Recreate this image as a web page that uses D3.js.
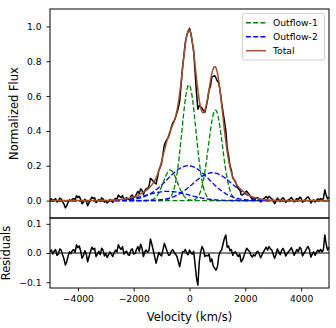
<!DOCTYPE html>
<html>
<head>
<meta charset="utf-8">
<script src="https://cdn.jsdelivr.net/npm/d3@7"></script>
<style>
body { margin: 0; background: #fff; }
text { font-family: "DejaVu Sans", sans-serif; }
</style>
</head>
<body>
<div id="vis"></div>
<script>
// velocity grid of the spectrum (km/s)
const velStart = -5000, velStep = 50;

// residuals = data - total fit, one per velocity bin (10 per row = 500 km/s)
const residuals = [
  0.005, 0.010, -0.003, 0.006, 0.012, -0.008, -0.004, 0.014, 0.010, -0.006,
  -0.020, -0.041, -0.030, -0.010, 0.004, -0.002, 0.008, 0.012, 0.002, 0.028,
  0.018, 0.024, 0.006, -0.018, -0.008, 0.008, -0.004, -0.030, -0.012, 0.004,
  0.020, 0.012, 0.016, -0.012, -0.004, 0.006, -0.006, 0.016, 0.010, -0.010,
  -0.002, -0.015, -0.006, 0.004, -0.004, -0.012, 0.002, 0.010, 0.004, 0.028,
  0.018, 0.012, 0.022, -0.004, 0.004, 0.006, -0.006, -0.008, 0.010, 0.014,
  -0.004, -0.002, 0.012, 0.022, 0.006, 0.030, 0.016, -0.012, 0.004, 0.010,
  0.002, 0.010, 0.048, 0.030, 0.010, -0.012, -0.035, -0.018, 0.002, -0.006,
  -0.010, 0.012, 0.033, 0.020, 0.005, -0.008, -0.006, 0.006, 0.012, 0.002,
  -0.004, -0.012, -0.030, -0.047, -0.020, 0.004, 0.004, 0.012, 0.000, -0.006,
  0.010, 0.002, -0.004, 0.006, -0.040, -0.085, -0.110, -0.030, 0.004, 0.022,
  0.012, -0.012, -0.008, -0.010, -0.004, -0.030, -0.020, -0.045, -0.052, -0.059,
  -0.048, -0.010, 0.004, 0.010, 0.030, 0.050, 0.062, 0.020, 0.024, 0.008,
  0.012, -0.008, 0.002, 0.004, -0.006, -0.012, -0.004, -0.030, -0.024, -0.010,
  0.004, 0.016, 0.010, 0.005, -0.008, -0.014, -0.006, -0.010, 0.002, 0.006,
  -0.004, -0.016, -0.006, 0.004, 0.012, 0.020, 0.010, 0.022, 0.014, 0.010,
  -0.004, -0.018, -0.006, 0.014, 0.004, -0.006, 0.008, 0.016, 0.006, -0.010,
  -0.002, 0.004, 0.010, 0.018, 0.006, -0.008, 0.002, 0.012, 0.004, 0.020,
  0.014, -0.010, -0.002, 0.006, 0.016, 0.022, 0.010, -0.014, -0.004, 0.004,
  -0.008, 0.002, 0.010, 0.004, 0.012, 0.004, 0.012, 0.062, 0.030, 0.010,
  0.020
];

// gaussian components of the fit: [NII]6548, Halpha, [NII]6583 for each outflow
const compSeries = ["Outflow-1", "Outflow-1", "Outflow-1", "Outflow-2", "Outflow-2", "Outflow-2"];
const compCenter = [-686, -20, 930, -770, -50, 820];
const compAmp    = [0.175, 0.665, 0.52, 0.053, 0.2, 0.16];
const compSigma  = [250, 250, 250, 750, 750, 700];

const legendLabels = ["Outflow-1", "Outflow-2", "Total"];
const fluxTicks = [0, 0.2, 0.4, 0.6, 0.8, 1.0];
const residTicks = [-0.1, 0, 0.1];
const velTicks = [-4000, -2000, 0, 2000, 4000];

const colors = { "Outflow-1": "#008000", "Outflow-2": "#0000ff", "Total": "#a0522d" };

const W = 336, H = 328;
const left = 50, right = 329, top1 = 9, bot1 = 218, bot2 = 288;

var svg = d3.select("#vis").append("svg")
  .attr("width", W).attr("height", H);

var x = d3.scaleLinear().domain([-5000, 5000]).range([left, right]);
var y1 = d3.scaleLinear().domain([-0.1, 1.1]).range([bot1, top1]);
var y2 = d3.scaleLinear().domain([-0.12, 0.12]).range([bot2, bot1]);

function gauss(i, v) {
  var d = (v - compCenter[i]) / compSigma[i];
  return compAmp[i] * Math.exp(-0.5 * d * d);
}
function total(v) {
  var s = 0;
  for (var i = 0; i < compCenter.length; i++) s += gauss(i, v);
  return s;
}

var fine = d3.range(-5000, 5001, 20);
var vel = residuals.map((r, i) => velStart + i * velStep);
var data = vel.map((v, i) => ({ v: v, f: total(v) + residuals[i], r: residuals[i] }));

// clip paths
var defs = svg.append("defs");
defs.append("clipPath").attr("id", "c1").append("rect")
  .attr("x", left).attr("y", top1).attr("width", right - left).attr("height", bot1 - top1);
defs.append("clipPath").attr("id", "c2").append("rect")
  .attr("x", left).attr("y", bot1).attr("width", right - left).attr("height", bot2 - bot1);

var p1 = svg.append("g").attr("clip-path", "url(#c1)");
var p2 = svg.append("g").attr("clip-path", "url(#c2)");

// observed spectrum
p1.append("path")
  .attr("d", d3.line().x(d => x(d.v)).y(d => y1(d.f))(data))
  .attr("fill", "none").attr("stroke", "#000").attr("stroke-width", 1.5)
  .attr("stroke-linejoin", "round");

// components
compCenter.forEach((c, i) => {
  p1.append("path")
    .attr("d", d3.line().x(v => x(v)).y(v => y1(gauss(i, v)))(fine))
    .attr("fill", "none")
    .attr("stroke", colors[compSeries[i]])
    .attr("stroke-width", 1.3)
    .attr("stroke-dasharray", "5,2.2");
});

// total
p1.append("path")
  .attr("d", d3.line().x(v => x(v)).y(v => y1(total(v)))(fine))
  .attr("fill", "none").attr("stroke", colors["Total"]).attr("stroke-width", 1.5);

// residuals
p2.append("line")
  .attr("x1", left).attr("x2", right).attr("y1", y2(0)).attr("y2", y2(0))
  .attr("stroke", "#000").attr("stroke-width", 1);
p2.append("path")
  .attr("d", d3.line().x(d => x(d.v)).y(d => y2(d.r))(data))
  .attr("fill", "none").attr("stroke", "#000").attr("stroke-width", 1.5)
  .attr("stroke-linejoin", "round");

// axes
function styleAxis(g) {
  g.select(".domain").remove();
  g.selectAll("line").attr("stroke", "#000").attr("stroke-width", 0.9);
  g.selectAll("text").attr("fill", "#000").style("font-size", "9.2px");
}
svg.append("g").attr("transform", "translate(" + left + ",0)")
  .call(d3.axisLeft(y1).tickValues(fluxTicks).tickFormat(d3.format(".1f")).tickSize(3.5).tickPadding(5))
  .call(styleAxis);
svg.append("g").attr("transform", "translate(" + left + ",0)")
  .call(d3.axisLeft(y2).tickValues(residTicks).tickFormat(d3.format(".1f")).tickSize(3.5).tickPadding(5))
  .call(styleAxis);
svg.append("g").attr("transform", "translate(0," + bot2 + ")")
  .call(d3.axisBottom(x).tickValues(velTicks).tickFormat(d3.format("d")).tickSize(3.5).tickPadding(4))
  .call(styleAxis);

// frames
[[top1, bot1], [bot1, bot2]].forEach(p => {
  svg.append("rect")
    .attr("x", left).attr("y", p[0]).attr("width", right - left).attr("height", p[1] - p[0])
    .attr("fill", "none").attr("stroke", "#000").attr("stroke-width", 1);
});

// labels
svg.append("text").attr("transform", "translate(18," + ((top1 + bot1) / 2) + ") rotate(-90)")
  .attr("text-anchor", "middle").style("font-size", "11.5px").text("Normalized Flux");
svg.append("text").attr("transform", "translate(10," + ((bot1 + bot2) / 2) + ") rotate(-90)")
  .attr("text-anchor", "middle").style("font-size", "11.5px").text("Residuals");
svg.append("text").attr("x", (left + right) / 2).attr("y", 320.5)
  .attr("text-anchor", "middle").style("font-size", "11.5px").text("Velocity (km/s)");

// legend
var legend = svg.append("g");
legend.append("rect")
  .attr("x", 242.5).attr("y", 13.5).attr("width", 82).attr("height", 46.5)
  .attr("rx", 2).attr("fill", "#fff").attr("fill-opacity", 0.8)
  .attr("stroke", "#cccccc").attr("stroke-width", 0.9);
legendLabels.forEach((lab, i) => {
  var yy = 22.7 + i * 14;
  legend.append("line")
    .attr("x1", 246).attr("x2", 266).attr("y1", yy).attr("y2", yy)
    .attr("stroke", colors[lab]).attr("stroke-width", 1.5)
    .attr("stroke-dasharray", lab === "Total" ? null : "5,2.2");
  legend.append("text").attr("x", 273).attr("y", yy + 3.3)
    .style("font-size", "9.2px").text(lab);
});
</script>
</body>
</html>
